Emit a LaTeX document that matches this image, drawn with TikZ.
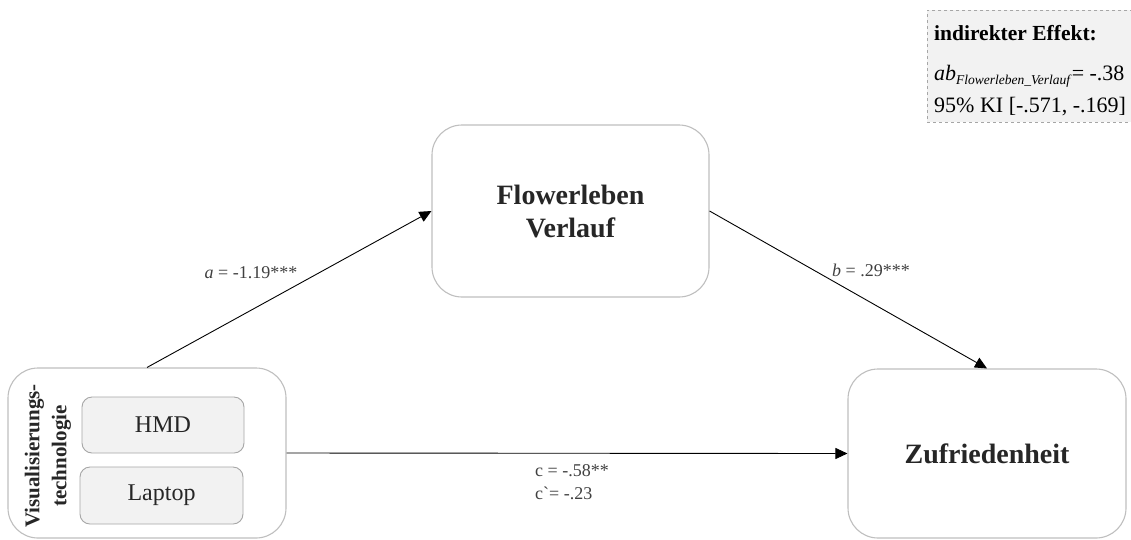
\documentclass[tikz,border=0pt]{standalone}
\usepackage{fontspec}
\setmainfont{Liberation Serif}
\usetikzlibrary{arrows.meta}
\definecolor{boxline}{HTML}{BFBFBF}
\definecolor{innerline}{HTML}{A6A6A6}
\definecolor{softfill}{HTML}{F2F2F2}
\definecolor{boxtext}{HTML}{262626}
\definecolor{labeltext}{HTML}{404040}
\tikzset{
  bigbox/.style={draw=boxline, line width=1.1pt, rounded corners=30pt, fill=white,
    minimum width=#1, minimum height=170pt, inner sep=0pt, align=center,
    text=boxtext, font=\bfseries\fontsize{28}{33}\selectfont},
  itembox/.style={draw=innerline, line width=0.9pt, rounded corners=10pt, fill=softfill,
    minimum width=162pt, minimum height=56pt, inner sep=0pt,
    text=boxtext, font=\fontsize{24}{28}\selectfont},
  path/.style={draw=black, line width=0.9pt, -{Triangle[length=12pt,width=11pt]}},
  coef/.style={text=labeltext, font=\fontsize{18}{22}\selectfont, inner sep=0pt},
  infoline/.style={anchor=base west, inner sep=0pt, font=\fontsize{22}{25}\selectfont},
}
\begin{document}
\begin{tikzpicture}[x=1pt,y=-1pt]
\useasboundingbox (0,0) rectangle (1131,539);

% summary of the indirect effect
\node[draw=innerline, dashed, line width=0.8pt, fill=softfill, anchor=north west,
  minimum width=215pt, minimum height=112pt, inner sep=0pt] (info) at (927,10) {};
\node[infoline, font=\bfseries\fontsize{21.5}{25}\selectfont] (infoA) at (934,40) {indirekter Effekt:};
\node[infoline] (infoB) at (934,80)
  {\textit{ab}\raisebox{-4.5pt}{\fontsize{13.5}{15}\selectfont\textit{Flowerleben\_Verlauf}}= -.38};
\node[infoline] (infoC) at (934,112) {95\% KI [-.571, -.169]};

% variables
\node[bigbox=277pt, minimum height=172pt] (med) at (570.5,211) {Flowerleben\\Verlauf};
\node[bigbox=278pt, minimum height=169pt] (out) at (987,453.5) {Zufriedenheit};
\node[bigbox=278pt, minimum height=170pt] (pred) at (147,453) {};
\node[rotate=90, align=center, text=boxtext, inner sep=0pt,
  font=\bfseries\fontsize{21}{27}\selectfont] (predname) at (48,456) {Visualisierungs-\\technologie};
\node[itembox] (hmd) at (163,425) {HMD};
\node[itembox, minimum width=163pt, minimum height=57pt] (lap) at (161.5,495.5) {Laptop};

% paths
\draw[path] (pred.north) -- (med.west);
\draw[path] (med.east) -- (out.north);
\draw[path] (pred.east) -- (out.west);

% coefficients
\node[coef] (la) at (251,273) {\textit{a} = -1.19***};
\node[coef] (lb) at (871,270) {\textit{b} = .29***};
\node[coef, anchor=west] (lc) at (535,471) {c = -.58**};
\node[coef, anchor=west] (lcp) at (535,493) {c\textasciigrave= -.23};
\end{tikzpicture}
\end{document}
